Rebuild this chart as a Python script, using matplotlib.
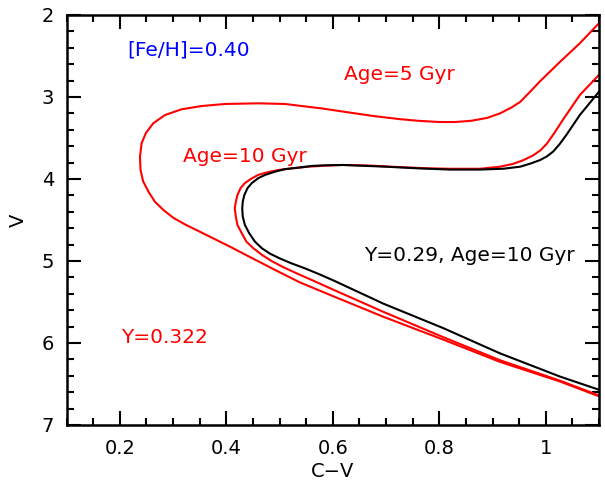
import matplotlib
matplotlib.use("Agg")
import matplotlib.pyplot as plt
from matplotlib.ticker import MultipleLocator

# Isochrone: Y=0.322, Age=5 Gyr (red, outer)
cv_5gyr = [1.100, 1.027, 0.914, 0.808, 0.695, 0.601, 0.538, 0.495, 0.441, 0.410,
           0.379, 0.348, 0.323, 0.301, 0.282, 0.266, 0.254, 0.244, 0.239, 0.238,
           0.241, 0.249, 0.263, 0.285, 0.316, 0.354, 0.398, 0.460, 0.510, 0.580,
           0.632, 0.680, 0.726, 0.760, 0.800, 0.830, 0.860, 0.890, 0.914, 0.935,
           0.952, 0.970, 0.989, 1.027, 1.064, 1.100]
v_5gyr = [6.65, 6.47, 6.23, 5.96, 5.68, 5.43, 5.26, 5.12, 4.94, 4.835,
          4.735, 4.635, 4.555, 4.475, 4.378, 4.277, 4.155, 4.03, 3.89, 3.73,
          3.565, 3.44, 3.32, 3.22, 3.15, 3.11, 3.085, 3.077, 3.085, 3.14,
          3.19, 3.235, 3.27, 3.29, 3.305, 3.305, 3.29, 3.255, 3.20, 3.13,
          3.06, 2.94, 2.81, 2.57, 2.345, 2.10]

# Isochrone: Y=0.322, Age=10 Gyr (red, inner)
cv_10gyr = [1.100, 1.027, 0.914, 0.808, 0.695, 0.601, 0.560, 0.532, 0.507, 0.485,
            0.467, 0.451, 0.438, 0.429, 0.421, 0.418, 0.416, 0.418, 0.421, 0.427,
            0.435, 0.446, 0.460, 0.476, 0.498, 0.523, 0.554, 0.585, 0.617, 0.664,
            0.726, 0.780, 0.820, 0.877, 0.914, 0.939, 0.958, 0.977, 0.990, 1.002,
            1.017, 1.033, 1.064, 1.100]
v_10gyr = [6.64, 6.46, 6.21, 5.93, 5.62, 5.35, 5.23, 5.15, 5.075, 5.00,
           4.925, 4.845, 4.765, 4.66, 4.56, 4.46, 4.357, 4.277, 4.195, 4.11,
           4.05, 4.00, 3.95, 3.92, 3.89, 3.87, 3.85, 3.838, 3.829, 3.835,
           3.855, 3.87, 3.875, 3.875, 3.85, 3.815, 3.77, 3.71, 3.65, 3.57,
           3.43, 3.27, 2.976, 2.73]

# Isochrone: Y=0.29, Age=10 Gyr (black)
cv_y029 = [1.100, 1.027, 0.914, 0.808, 0.695, 0.604, 0.576, 0.548, 0.523, 0.501,
           0.482, 0.467, 0.454, 0.443, 0.435, 0.431, 0.430, 0.431, 0.434, 0.440,
           0.448, 0.460, 0.473, 0.492, 0.510, 0.535, 0.560, 0.585, 0.620, 0.700,
           0.760, 0.820, 0.877, 0.920, 0.952, 0.972, 0.989, 1.002, 1.014, 1.026,
           1.039, 1.064, 1.100]
v_y029 = [6.57, 6.41, 6.126, 5.82, 5.52, 5.245, 5.165, 5.09, 5.03, 4.97,
          4.91, 4.845, 4.765, 4.66, 4.56, 4.46, 4.357, 4.277, 4.195, 4.11,
          4.05, 3.99, 3.95, 3.91, 3.88, 3.862, 3.841, 3.833, 3.829, 3.85,
          3.87, 3.885, 3.885, 3.875, 3.85, 3.81, 3.77, 3.725, 3.665, 3.575,
          3.46, 3.22, 2.935]

fig = plt.figure(figsize=(6.05, 4.80), dpi=100)
ax = fig.add_axes([66.5 / 605, 55 / 480, (599 - 66.5) / 605, (425 - 15) / 480])

lw = 1.5
ax.plot(cv_5gyr, v_5gyr, color="#ff0000", lw=lw, solid_joinstyle="round")
ax.plot(cv_10gyr, v_10gyr, color="#ff0000", lw=lw, solid_joinstyle="round")
ax.plot(cv_y029, v_y029, color="black", lw=lw, solid_joinstyle="round")

ax.set_xlim(0.1, 1.1)
ax.set_ylim(7, 2)

ax.xaxis.set_minor_locator(MultipleLocator(0.05))
ax.yaxis.set_minor_locator(MultipleLocator(0.2))
ax.set_xticks([0.2, 0.4, 0.6, 0.8, 1.0])
ax.set_xticklabels(["0.2", "0.4", "0.6", "0.8", "1"])
ax.set_yticks([2, 3, 4, 5, 6, 7])
ax.set_yticklabels(["2", "3", "4", "5", "6", "7"])

ax.tick_params(which="both", direction="in", top=True, right=True, width=1.5,
               labelsize=14)
ax.tick_params(which="major", length=10)
ax.tick_params(which="minor", length=5)
ax.tick_params(axis="x", pad=10)
ax.tick_params(axis="y", pad=9)
for s in ax.spines.values():
    s.set_linewidth(1.8)

ax.set_xlabel("C\u2212V", fontsize=14, labelpad=3)
ax.set_ylabel("V", fontsize=14, labelpad=10)

fs = 14.5
ax.text(0.3291, 2.43, "[Fe/H]=0.40", color="blue", fontsize=fs, ha="center", va="center")
ax.text(0.7244, 2.73, "Age=5 Gyr", color="#ff0000", fontsize=fs, ha="center", va="center")
ax.text(0.4352, 3.73, "Age=10 Gyr", color="#ff0000", fontsize=fs, ha="center", va="center")
ax.text(0.8559, 4.93, "Y=0.29, Age=10 Gyr", color="black", fontsize=fs, ha="center", va="center")
ax.text(0.2831, 5.93, "Y=0.322", color="#ff0000", fontsize=fs, ha="center", va="center")

fig.savefig("out.png", dpi=100)
